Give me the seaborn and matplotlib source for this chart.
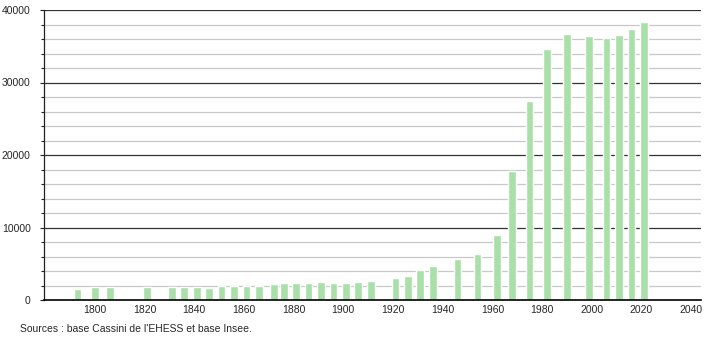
import matplotlib
matplotlib.use("Agg")
import matplotlib.pyplot as plt
import seaborn as sns
import pandas as pd
from matplotlib.ticker import MultipleLocator

years = [1793, 1800, 1806, 1821, 1831, 1836, 1841, 1846, 1851, 1856, 1861, 1866,
         1872, 1876, 1881, 1886, 1891, 1896, 1901, 1906, 1911, 1921, 1926, 1931,
         1936, 1946, 1954, 1962, 1968, 1975, 1982, 1990, 1999, 2006, 2011, 2016, 2021]
population = [1480, 1750, 1750, 1750, 1750, 1750, 1750, 1720, 1970, 1970, 1950, 1950,
              2160, 2390, 2390, 2390, 2530, 2350, 2300, 2530, 2660, 3080, 3350, 4140,
              4730, 5650, 6340, 8920, 17830, 27440, 34610, 36730, 36410, 36090, 36550,
              37380, 38340]
x_ticks = [1800, 1820, 1840, 1860, 1880, 1900, 1920, 1940, 1960, 1980, 2000, 2020, 2040]
y_ticks = [0, 10000, 20000, 30000, 40000]
source_text = "Sources : base Cassini de l'EHESS et base Insee."

sns.set_style("white")
plt.rcParams['font.family'] = ['Liberation Sans', 'DejaVu Sans']

df = pd.DataFrame({"year": years, "pop": population})

fig = plt.figure(figsize=(7.1, 3.4), dpi=100)
ax = fig.add_axes([44/710, 1 - 300/340, (701 - 44)/710, (300 - 10)/340])

sns.barplot(data=df, x="year", y="pop", native_scale=True, color="#a9dfa9",
            saturation=1, width=0.78, ax=ax, zorder=3)

ax.set_xlim(1779.5, 2044)
ax.set_ylim(0, 40000)
ax.set_xticks(x_ticks)
ax.set_xticklabels([str(t) for t in x_ticks])
ax.set_yticks(y_ticks)
ax.set_yticklabels([str(t) for t in y_ticks])
ax.yaxis.set_minor_locator(MultipleLocator(2000))
ax.set_xlabel("")
ax.set_ylabel("")

ax.grid(False)
for v in range(2000, 40001, 2000):
    if v % 10000 == 0:
        ax.axhline(v, color="#333333", lw=0.9, zorder=1)
    else:
        ax.axhline(v, color="#c8c8c8", lw=0.9, zorder=1)

for s in ["top", "right"]:
    ax.spines[s].set_visible(False)
ax.spines["left"].set_color("#222222")
ax.spines["left"].set_linewidth(0.9)
ax.spines["bottom"].set_color("#000000")
ax.spines["bottom"].set_linewidth(1.2)
ax.spines["bottom"].set_zorder(5)

ax.tick_params(axis="y", which="major", length=3, width=0.8, color="#222222",
               labelsize=7.5, pad=6.5, left=True)
ax.tick_params(axis="y", which="minor", length=2, width=0.8, color="#222222", left=True)
ax.tick_params(axis="x", which="both", length=0, labelsize=7.5, pad=3.5)

fig.text(20/710, 1 - 329/340, source_text, fontsize=7.5, ha="left", va="center")

fig.savefig("out.png", dpi=100)
